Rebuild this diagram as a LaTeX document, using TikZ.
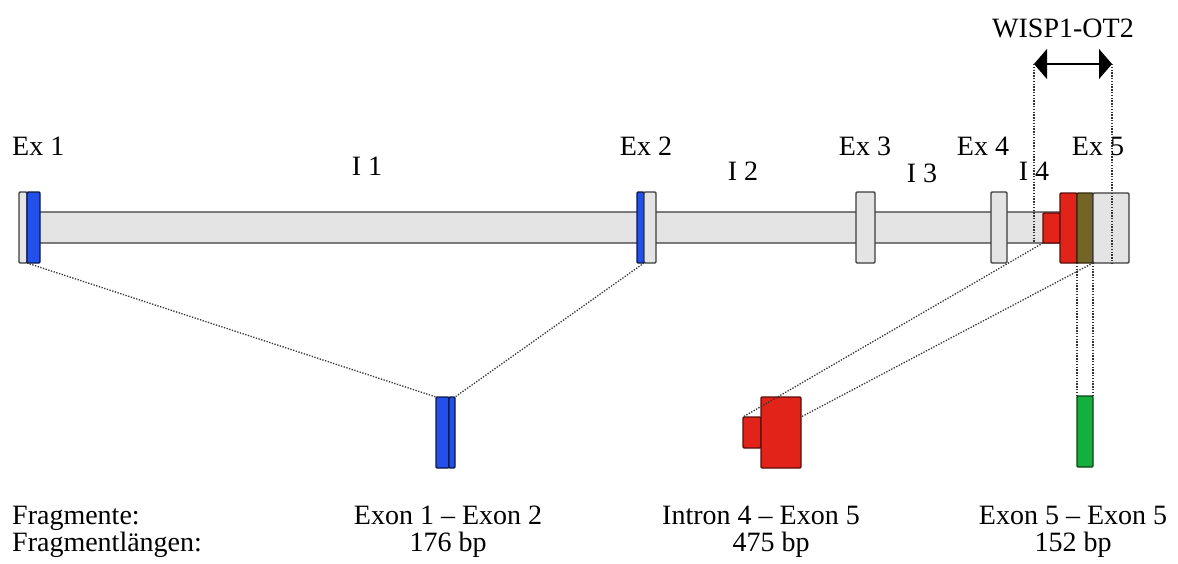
\documentclass[tikz,border=0pt]{standalone}
\usepackage{fontspec}
\setmainfont{Liberation Serif}
\usetikzlibrary{arrows.meta}
\definecolor{outl}{RGB}{60,60,60}
\definecolor{lgrey}{RGB}{228,228,228}
\definecolor{exblue}{RGB}{35,80,235}
\definecolor{exred}{RGB}{225,35,25}
\definecolor{exolive}{RGB}{115,100,40}
\definecolor{exgreen}{RGB}{20,175,60}
\tikzset{
  rbox/.style={draw=outl, line width=1.4pt, inner sep=0pt, outer sep=0pt, anchor=north west, rounded corners=1.2pt},
  greybox/.style={rbox, fill=lgrey},
  bluebox/.style={rbox, fill=exblue, draw=black!70!exblue},
  redbox/.style={rbox, fill=exred, draw=black!60!exred},
  olivebox/.style={rbox, fill=exolive, draw=black!60!exolive},
  greenbox/.style={rbox, fill=exgreen, draw=black!60!exgreen},
  guide/.style={draw=black!80, line width=1.3pt, dash pattern=on 1.3pt off 1.5pt},
  lbl/.style={inner sep=0pt, font=\fontsize{28}{34}\selectfont, anchor=base},
  lbll/.style={lbl, anchor=base west}
}
\newcommand{\bx}[6]{\node[#1, minimum width=#4pt, minimum height=#5pt] (#6) at (#2,#3) {};}
\begin{document}
\begin{tikzpicture}[x=1pt,y=-1pt]
\useasboundingbox (0,0) rectangle (1178,563);
% bar
\bx{greybox}{20}{212}{1100}{31}{bar}
% exons
\bx{greybox}{19}{192}{8}{71}{ex1g}
\bx{bluebox}{27}{192}{13}{71}{ex1b}
\bx{bluebox}{637}{192}{7}{71}{ex2b}
\bx{greybox}{644}{192}{12}{71}{ex2g}
\bx{greybox}{856}{192}{19}{71}{ex3}
\bx{greybox}{991}{192}{16}{71}{ex4}
\bx{redbox}{1043}{213}{17}{30}{ex5s}
\bx{redbox}{1060}{193}{17}{70}{ex5r}
\bx{olivebox}{1077}{193}{16}{70}{ex5o}
\bx{greybox}{1093}{193}{36}{70}{ex5g}
% fragments
\bx{bluebox}{436}{397}{13}{71}{f1a}
\bx{bluebox}{449}{397}{6}{71}{f1b}
\bx{redbox}{743}{417}{18}{31}{f2s}
\bx{redbox}{761}{397}{40}{71}{f2b}
\bx{greenbox}{1077}{396}{16}{71}{f3}
% WISP1-OT2 marker
\coordinate (wl) at (1034,64);
\coordinate (wr) at (1112,64);
\draw[guide] (wl) -- (wl |- ex5s.south);
\draw[guide] (wr) -- (wr |- ex5g.south);
\draw[line width=1.4pt, {Triangle[length=13pt,width=30pt]}-{Triangle[length=13pt,width=30pt]}] (wl) -- (wr);
% dotted connectors
\draw[guide] (ex1b.south west) -- (f1a.north west);
\draw[guide] (ex2b.south east) -- (f1b.north east);
\draw[guide] (ex5s.south west) -- (f2s.north west);
\draw[guide] (ex5o.south east) -- (f2b.east |- f2s.north);
\draw[guide] (ex5o.south west) -- (f3.north west);
\draw[guide] (ex5o.south east) -- (f3.north east);
% labels
\node[lbl] (wisp) at (1063,37) {WISP1-OT2};
\node[lbll] (lex1) at (12,155) {Ex 1};
\node[lbl] (li1) at (367,175) {I 1};
\node[lbl] (lex2) at (646,155) {Ex 2};
\node[lbl] (li2) at (743,180) {I 2};
\node[lbl] (lex3) at (865,155) {Ex 3};
\node[lbl] (li3) at (922,182) {I 3};
\node[lbl] (lex4) at (983,155) {Ex 4};
\node[lbl] (li4) at (1034,180) {I 4};
\node[lbl] (lex5) at (1098,155) {Ex 5};
% bottom texts
\node[lbll] (tfr) at (12,524) {Fragmente:};
\node[lbll] (tfl) at (12,551) {Fragmentlängen:};
\node[lbl] (t1) at (448,524) {Exon 1 – Exon 2};
\node[lbl] (t1l) at (448,551) {176 bp};
\node[lbl] (t2) at (761,524) {Intron 4 – Exon 5};
\node[lbl] (t2l) at (771,551) {475 bp};
\node[lbl] (t3) at (1073,524) {Exon 5 – Exon 5};
\node[lbl] (t3l) at (1073,551) {152 bp};
\end{tikzpicture}
\end{document}
